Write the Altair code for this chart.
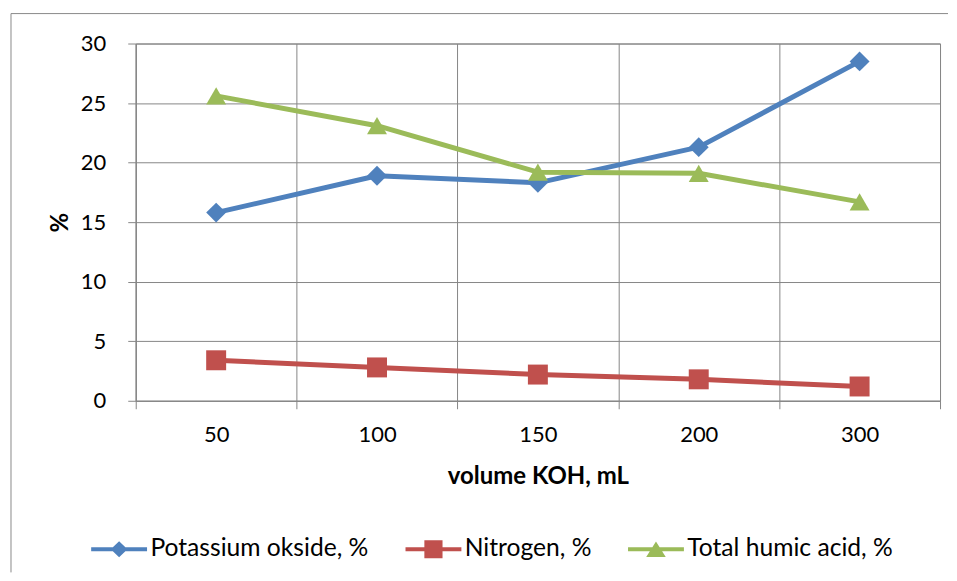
import altair as alt
import pandas as pd

categories = ["50", "100", "150", "200", "300"]
series_names = ["Potassium okside, %", "Nitrogen, %", "Total humic acid, %"]
series_keys = ["K2O", "N", "HA"]
potassium = [15.8, 18.9, 18.3, 21.3, 28.5]
nitrogen = [3.4, 2.8, 2.2, 1.8, 1.2]
humic = [25.6, 23.1, 19.2, 19.1, 16.7]
y_ticks = [0, 5, 10, 15, 20, 25, 30]

colors = ["#4F81BD", "#C0504D", "#9BBB59"]
shapes = ["diamond", "square", "triangle-up"]

rows = []
for i, (name, key, vals) in enumerate(zip(series_names, series_keys, [potassium, nitrogen, humic])):
    for c, v in zip(categories, vals):
        rows.append({"volume": c, "value": v, "series": name, "key": key, "order": i})
df = pd.DataFrame(rows)

FONT = "Lato"
GRID = "#878787"

# legend symbols: a short line with the series marker on it
bar = "M-4,-0.3L4,-0.3L4,0.3L-4,0.3Z"
leg_paths = [
    bar + "M0,-1.15L1.2,0L0,1.15L-1.2,0Z",
    bar + "M-1.3,-1.3L1.3,-1.3L1.3,1.3L-1.3,1.3Z",
    bar + "M0,-1.1L1.4,1.1L-1.4,1.1Z",
]
sym_expr = (
    f"datum.value === '{series_names[1]}' ? '{leg_paths[1]}' : "
    f"(datum.value === '{series_names[2]}' ? '{leg_paths[2]}' : '{leg_paths[0]}')"
)

x_enc = alt.X(
    "volume:N",
    sort=categories,
    scale=alt.Scale(type="band", paddingInner=0, paddingOuter=0),
    axis=alt.Axis(
        title="volume KOH, mL",
        tickBand="extent",
        labelAngle=0,
        labelPadding=16,
        titlePadding=19,
    ),
)
y_enc = alt.Y(
    "value:Q",
    scale=alt.Scale(domain=[0, 30], nice=False, zero=True),
    axis=alt.Axis(
        title="%",
        values=y_ticks,
        labelPadding=22,
        titleX=-75,
        titleY=179,
        titleAngle=-90,
        titleAlign="center",
        titleBaseline="middle",
    ),
)

lines = alt.Chart(df).mark_line(strokeWidth=5, strokeJoin="round", strokeCap="round").encode(
    x=x_enc,
    y=y_enc,
    stroke=alt.Stroke("key:N", scale=alt.Scale(domain=series_keys, range=colors), legend=None),
    detail="key:N",
)

points = alt.Chart(df).mark_point(filled=True, opacity=1, size=400).encode(
    x=x_enc,
    y=y_enc,
    color=alt.Color(
        "series:N",
        scale=alt.Scale(domain=series_names, range=colors),
        legend=alt.Legend(
            title=None,
            orient="none",
            direction="horizontal",
            legendX=-29,
            legendY=494,
            symbolType=alt.ExprRef(sym_expr),
            symbolSize=196,
            symbolStrokeWidth=0,
            labelOffset=19,
            columnPadding=36,
            labelFont=FONT,
            labelFontSize=24.7,
            labelColor="#000000",
            labelLimit=400,
        ),
    ),
    shape=alt.Shape("key:N", scale=alt.Scale(domain=series_keys, range=shapes), legend=None),
    order=alt.Order("order:Q"),
)

frame_data = pd.DataFrame({"k": [0]})
top_border = alt.Chart(frame_data).mark_rule(color="#898989", strokeWidth=1).encode(
    x=alt.value(-125), x2=alt.value(814), y=alt.value(-30)
)
left_border = alt.Chart(frame_data).mark_rule(color="#898989", strokeWidth=1).encode(
    x=alt.value(-125), y=alt.value(-30), y2=alt.value(530)
)

chart = (
    alt.layer(top_border, left_border, lines, points)
    .properties(
        width=806,
        height=358,
        padding={"left": 2, "top": 4, "right": 0, "bottom": 0},
        background="white",
    )
    .configure_view(stroke=GRID, strokeWidth=1)
    .configure_axis(
        labelFont=FONT,
        labelFontSize=22,
        labelColor="#000000",
        titleFont=FONT,
        titleFontSize=24,
        titleFontWeight="bold",
        titleColor="#000000",
        domainColor=GRID,
        tickColor=GRID,
        gridColor=GRID,
        grid=True,
        gridWidth=1,
        tickSize=8,
        domainWidth=1,
        tickWidth=1,
    )
)

chart.save("out.html", embed_options={"renderer": "svg", "actions": False})
